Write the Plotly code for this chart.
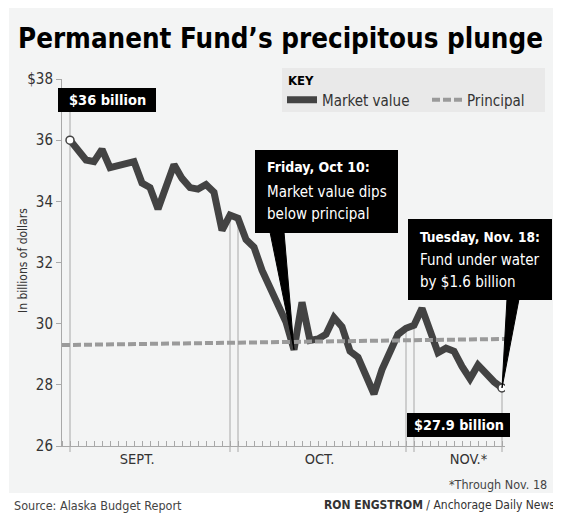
import plotly.graph_objects as go

# ---------------- data ----------------
sept_values = [36.0, 35.7, 35.35, 35.3, 35.7, 35.1, 35.15, 35.2, 35.3, 34.6, 34.45,
               33.75, 34.5, 35.2, 34.75, 34.45, 34.4, 34.55, 34.3, 33.05, 33.55]
oct_values = [33.45, 32.75, 32.5, 31.75, 31.15, 30.65, 30.05, 29.15, 30.7, 29.45, 29.5,
              29.65, 30.2, 29.9, 29.1, 28.9, 28.3, 27.7, 28.5, 29.1, 29.65, 29.85]
nov_values = [29.95, 30.5, 29.75, 29.05, 29.2, 29.1, 28.6, 28.2, 28.65, 28.35, 28.1, 27.9]
principal_values = [29.3, 29.5]
month_labels = ["SEPT.", "OCT.", "NOV.*"]
y_tick_values = [26, 28, 30, 32, 34, 36, 38]
y_tick_labels = ["26", "28", "30", "32", "34", "36", "$38"]

market = sept_values + oct_values + nov_values
days = list(range(len(market)))
n_sept, n_oct = len(sept_values), len(oct_values)
oct10_idx = n_sept + 7
last_idx = days[-1]

# ---------------- geometry helpers (reference-pixel based) ----------------
OFF = 8                      # page body margin
W, H = 561 - OFF, 516 - OFF  # figure size
L, R, T, B = 62, 505, 79, 446  # plot area in reference pixels
XMIN, XMAX = -1.0, last_idx + 3 / 8
YMIN, YMAX = 26, 38
principal_x = [XMIN, XMAX]
month_label_pos = [8.4, 31.2, 49.8]

def px(xp):
    return (xp - L) / (R - L)

def py(yp):
    return (B - yp) / (B - T)

def dx(i):
    return (i - XMIN) / (XMAX - XMIN)

def dy(v):
    return (v - YMIN) / (YMAX - YMIN)

NARROW = "DejaVu Sans Condensed, Liberation Sans Narrow, sans-serif"
BG = "#f3f4f4"
LINE = "#434343"
GRID = "#a8a8a8"

fig = go.Figure()

fig.add_trace(go.Scatter(
    x=days, y=market, mode="lines", name="Market value",
    line=dict(color=LINE, width=7),
))
fig.add_trace(go.Scatter(
    x=principal_x, y=principal_values, mode="lines", name="Principal",
    line=dict(color="#9a9a9a", width=4, dash="8px,3px"),
))
fig.add_trace(go.Scatter(
    x=[days[0], days[-1]], y=[market[0], market[-1]], mode="markers",
    showlegend=False,
    marker=dict(size=8, color="white", line=dict(color=LINE, width=1.5)),
))

shapes = []
shapes.append(dict(type="rect", xref="paper", yref="paper",
                   x0=px(9), x1=px(553), y0=py(493), y1=py(4),
                   fillcolor=BG, line=dict(width=0), layer="below"))
shapes.append(dict(type="rect", xref="paper", yref="paper",
                   x0=px(282), x1=px(545), y0=py(112), y1=py(68),
                   fillcolor="#e9e9e9", line=dict(width=0), layer="below"))
shapes.append(dict(type="line", xref="paper", yref="paper",
                   x0=dx(0), x1=dx(0), y0=py(452), y1=py(112),
                   line=dict(color=GRID, width=1), layer="below"))
for i in [n_sept - 1, n_sept, n_sept + n_oct - 1, n_sept + n_oct, last_idx]:
    shapes.append(dict(type="line", xref="paper", yref="paper",
                       x0=dx(i), x1=dx(i), y0=py(452), y1=dy(market[i]),
                       line=dict(color=GRID, width=1), layer="below"))
for (x0, x1, y0, y1) in [(58, 156, 88, 112), (255, 398, 150, 233),
                         (408, 552, 219, 300), (407, 510, 413, 437)]:
    shapes.append(dict(type="rect", xref="paper", yref="paper",
                       x0=px(x0), x1=px(x1), y0=py(y1), y1=py(y0),
                       fillcolor="black", line=dict(width=0), layer="above"))

def wedge(xa, xb, ybase, i):
    return dict(type="path", xref="paper", yref="paper",
                path=f"M {px(xa)} {py(ybase)} L {px(xb)} {py(ybase)} L {dx(i)} {dy(market[i])} Z",
                fillcolor="black", line=dict(color="black", width=1), layer="above")
shapes.append(wedge(270, 284, 232, oct10_idx))
shapes.append(wedge(507, 519, 299, last_idx))

ann = []
def text(t, xp, yp, size, color="white", xanchor="left", yanchor="middle", family=NARROW):
    ann.append(dict(text=t, x=px(xp), y=py(yp), xref="paper", yref="paper",
                    xanchor=xanchor, yanchor=yanchor, showarrow=False,
                    font=dict(size=size, color=color, family=family)))

text("<b>KEY</b>", 286, 80, 13, color="black")
text("<b>$36 billion</b>", 107, 100, 14.5, xanchor="center")
text("<b>Friday, Oct 10:</b>", 265, 167, 14)
text("Market value dips", 265, 192, 15)
text("below principal", 265, 214, 15)
text("<b>Tuesday, Nov. 18:</b>", 418, 237, 13.6)
text("Fund under water", 418, 260, 15)
text("by $1.6 billion", 418, 282, 15)
text("<b>$27.9 billion</b>", 458.5, 425, 14.3, xanchor="center")
text("*Through Nov. 18", 549, 485, 12.5, color="#444", xanchor="right")
text("Source: Alaska Budget Report", 12, 505, 12.5, color="#444")
text("<b>RON ENGSTROM</b> / Anchorage Daily News", 557, 505, 12, color="#333", xanchor="right")
text("In billions of dollars", 23, 261, 12, color="#333", xanchor="center")
ann[-1]["textangle"] = -90

fig.update_layout(
    width=W, height=H,
    margin=dict(l=L - OFF, r=W - (R - OFF), t=T - OFF, b=H - (B - OFF), pad=0, autoexpand=False),
    paper_bgcolor="white", plot_bgcolor=BG,
    font=dict(family=NARROW, color="#333"),
    title=dict(text="<b>Permanent Fund’s precipitous plunge</b>",
               x=(18 - OFF) / W, xanchor="left", y=1 - (38 - OFF) / H, yanchor="middle",
               font=dict(size=27.5, color="black", family=NARROW)),
    showlegend=True,
    legend=dict(
        orientation="h", x=px(282), y=py(100), xanchor="left", yanchor="middle",
        bgcolor="rgba(0,0,0,0)", borderwidth=0,
        font=dict(size=15, color="#333", family=NARROW),
        entrywidth=100, entrywidthmode="pixels",
    ),
    shapes=shapes,
    annotations=ann,
)

fig.update_xaxes(
    range=[XMIN, XMAX], showgrid=False, zeroline=False,
    showline=True, linecolor=GRID, linewidth=1,
    tickmode="array", tickvals=month_label_pos, ticktext=month_labels,
    ticks="", tickfont=dict(size=14.5, color="#333", family=NARROW),
    minor=dict(ticks="inside", ticklen=5, tickcolor=GRID, dtick=1, tick0=0, showgrid=False),
)
fig.update_yaxes(
    range=[YMIN, YMAX], showgrid=False, zeroline=False,
    showline=True, linecolor=GRID, linewidth=1,
    tickmode="array", tickvals=y_tick_values, ticktext=y_tick_labels,
    ticks="outside", ticklen=5, tickcolor=GRID,
    tickfont=dict(size=15, color="#333", family=NARROW),
)

fig.write_html("out.html")
